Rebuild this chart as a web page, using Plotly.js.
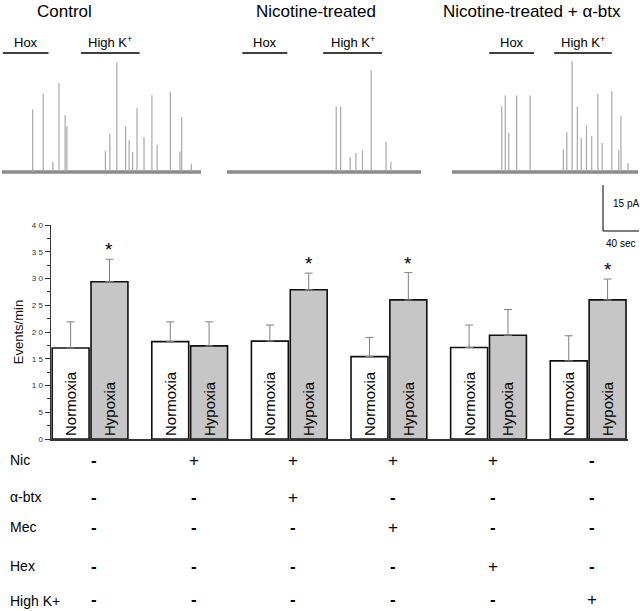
<!DOCTYPE html>
<html>
<head>
<meta charset="utf-8">
<script src="https://cdn.plot.ly/plotly-3.0.1.min.js"></script>
<style>html,body{margin:0;padding:0;background:#fff}#chart{width:640px;height:611px}</style>
</head>
<body>
<div id="chart"></div>
<script>
// ---------- bar chart data ----------
var groups = ['Control', 'Nicotine', 'Nic + α-btx', 'Nic + Mec', 'Nic + Hex', 'High K+'];
var normoxia = [17.0, 18.2, 18.3, 15.4, 17.1, 14.6];
var normoxiaErr = [4.9, 3.7, 3.0, 3.6, 4.2, 4.7];
var hypoxia = [29.4, 17.4, 27.9, 26.0, 19.4, 26.0];
var hypoxiaErr = [4.2, 4.5, 3.1, 5.1, 4.8, 3.9];
var significant = [true, false, true, true, false, true];
var yTickVals = [0, 5, 10, 15, 20, 25, 30, 35, 40];
var yTickText = ['0', '5', '1 0', '1 5', '2 0', '2 5', '3 0', '3 5', '4 0'];

// ---------- treatment table ----------
var rowLabels = ['Nic', 'α-btx', 'Mec', 'Hex', 'High K+'];
var nicRow   = ['-', '+', '+', '+', '+', '-'];
var abtxRow  = ['-', '-', '+', '-', '-', '-'];
var mecRow   = ['-', '-', '-', '+', '-', '-'];
var hexRow   = ['-', '-', '-', '-', '+', '-'];
var highKRow = ['-', '-', '-', '-', '-', '+'];

// ---------- recording traces (time s, amplitude pA) ----------
var panelTitles = ['Control', 'Nicotine-treated', 'Nicotine-treated + α-btx'];
var panelDuration = [227, 222, 213];
var controlSpikeT = [35, 47, 58, 65, 72, 74, 118, 123, 131, 141, 145, 149, 154, 162, 171, 177, 192, 203, 205, 216];
var controlSpikeA = [20.3, 25.5, 3.3, 29.0, 18.5, 14.9, 6.8, 12.5, 35.6, 14.9, 10.3, 6.5, 20.8, 11.4, 25.0, 8.9, 26.1, 6.7, 17.9, 2.7];
var nicSpikeT = [125, 130, 141, 147.5, 155, 165, 182, 187.5];
var nicSpikeA = [21.2, 21.4, 4.9, 6.2, 7.1, 33.1, 9.8, 3.3];
var btxSpikeT = [57, 61, 65, 74, 89.5, 127.5, 131.5, 137.5, 143.5, 148, 154, 160, 167, 172, 183, 191, 193.5, 201.5];
var btxSpikeA = [21.4, 24.9, 12.7, 24.9, 24.9, 7.3, 12.9, 36.1, 21.2, 11.1, 15.1, 11.8, 25.5, 9.4, 26.3, 7.1, 18.1, 2.9];
var hoxPeriod = [[1, 53], [17.5, 69], [42.6, 94]];
var highKPeriod = [[90, 157], [110, 177.5], [117, 183]];

var FONT = 'Arial, "Liberation Sans", sans-serif';
var W = 640, H = 611;
function px(x) { return x / W; }
function py(y) { return (H - y) / H; }

var data = [];
var zeros = normoxia.map(function () { return 0; });
data.push({
  type: 'bar', name: 'Normoxia', x: groups, y: normoxia,
  marker: { color: '#ffffff', line: { color: '#111', width: 1.6 } },
  error_y: { type: 'data', symmetric: false, array: normoxiaErr, arrayminus: zeros, color: '#808080', thickness: 1, width: 4 },
  text: normoxia.map(function () { return 'Normoxia'; }),
  textposition: 'inside', insidetextanchor: 'start', textangle: -90,
  textfont: { family: FONT, size: 15, color: '#000' },
  hoverinfo: 'x+y', showlegend: false, xaxis: 'x', yaxis: 'y'
});
data.push({
  type: 'bar', name: 'Hypoxia', x: groups, y: hypoxia,
  marker: { color: '#c6c6c6', line: { color: '#111', width: 1.6 } },
  error_y: { type: 'data', symmetric: false, array: hypoxiaErr, arrayminus: zeros, color: '#808080', thickness: 1, width: 4 },
  text: hypoxia.map(function () { return 'Hypoxia'; }),
  textposition: 'inside', insidetextanchor: 'start', textangle: -90,
  textfont: { family: FONT, size: 15, color: '#000' },
  hoverinfo: 'x+y', showlegend: false, xaxis: 'x', yaxis: 'y'
});

// recording panels
var spikeSets = [[controlSpikeT, controlSpikeA], [nicSpikeT, nicSpikeA], [btxSpikeT, btxSpikeA]];
var panelXDomains = [[px(2), px(201)], [px(227), px(421)], [px(452), px(638)]];
var traceYDomain = [py(182), py(58)];
for (var p = 0; p < 3; p++) {
  var ax = 'x' + (p + 2), ay = 'y' + (p + 2);
  data.push({
    type: 'scatter', mode: 'lines', x: [0, panelDuration[p]], y: [0, 0],
    line: { color: '#8a8a8a', width: 3.5 }, hoverinfo: 'skip', showlegend: false, xaxis: ax, yaxis: ay
  });
  var sx = [], sy = [];
  for (var i = 0; i < spikeSets[p][0].length; i++) {
    sx.push(spikeSets[p][0][i], spikeSets[p][0][i], null);
    sy.push(0, spikeSets[p][1][i], null);
  }
  data.push({
    type: 'scatter', mode: 'lines', x: sx, y: sy,
    line: { color: '#a8a8a8', width: 1.2 }, hoverinfo: 'skip', showlegend: false, xaxis: ax, yaxis: ay
  });
}

var layout = {
  width: W, height: H,
  margin: { l: 0, r: 0, t: 0, b: 0 },
  paper_bgcolor: '#fff', plot_bgcolor: 'rgba(0,0,0,0)',
  barmode: 'group', bargap: 0.22, bargroupgap: 0.05,
  font: { family: FONT, color: '#000' },
  xaxis: {
    domain: [px(51), px(628)], range: [-0.392, 5.40], type: 'category',
    showticklabels: false, ticks: '', showgrid: false, zeroline: false,
    showline: true, linecolor: '#333', linewidth: 2, anchor: 'y', fixedrange: true
  },
  yaxis: {
    domain: [py(439), py(225)], range: [0, 40], anchor: 'x',
    tickvals: yTickVals, ticktext: yTickText, ticks: 'outside', ticklen: 5, tickwidth: 1, tickcolor: '#333',
    minor: { dtick: 2.5, ticks: 'outside', ticklen: 3, tickcolor: '#333', tickwidth: 1 },
    tickfont: { family: FONT, size: 8, color: '#333' },
    showline: true, linecolor: '#333', linewidth: 1.5, showgrid: false, zeroline: false,
    title: { text: 'Events/min', font: { family: FONT, size: 13, color: '#111' }, standoff: 5 },
    fixedrange: true
  },
  annotations: [],
  shapes: []
};

for (var p = 0; p < 3; p++) {
  var n = p + 2;
  layout['xaxis' + n] = { domain: panelXDomains[p], range: [0, panelDuration[p]], anchor: 'y' + n, visible: false, fixedrange: true };
  layout['yaxis' + n] = { domain: traceYDomain, range: [-3.26, 37.1], anchor: 'x' + n, visible: false, fixedrange: true };
  // stimulus bars and labels
  var periods = [hoxPeriod[p], highKPeriod[p]];
  var labels = ['Hox', 'High K<sup>+</sup>'];
  for (var k = 0; k < 2; k++) {
    layout.shapes.push({ type: 'line', xref: 'x' + n, yref: 'paper', x0: periods[k][0], x1: periods[k][1], y0: py(53), y1: py(53), line: { color: '#000', width: 1.3 } });
    layout.annotations.push({ xref: 'x' + n, yref: 'paper', x: (periods[k][0] + periods[k][1]) / 2, xanchor: 'center', y: py(53), yanchor: 'bottom', yshift: 1, text: labels[k], showarrow: false, font: { family: FONT, size: 13, color: '#000' } });
  }
}
// panel titles
var titleX = [64, 316, 532];
for (var p = 0; p < 3; p++) {
  layout.annotations.push({ xref: 'paper', yref: 'paper', x: px(titleX[p]), xanchor: 'center', y: py(12), yanchor: 'middle', text: panelTitles[p], showarrow: false, font: { family: FONT, size: 17, color: '#000' } });
}

// scale bar
layout.shapes.push({ type: 'line', xref: 'paper', yref: 'paper', x0: px(603), x1: px(603), y0: py(185), y1: py(231), line: { color: '#000', width: 1 } });
layout.shapes.push({ type: 'line', xref: 'paper', yref: 'paper', x0: px(603), x1: px(639), y0: py(231), y1: py(231), line: { color: '#000', width: 1 } });
layout.annotations.push({ xref: 'paper', yref: 'paper', x: px(626), xanchor: 'center', y: py(204), yanchor: 'middle', text: '15 pA', showarrow: false, font: { family: FONT, size: 10, color: '#000' } });
layout.annotations.push({ xref: 'paper', yref: 'paper', x: px(620), xanchor: 'center', y: py(243), yanchor: 'middle', text: '40 sec', showarrow: false, font: { family: FONT, size: 10, color: '#000' } });

// significance stars
for (var i = 0; i < groups.length; i++) {
  if (significant[i]) {
    layout.annotations.push({ xref: 'x', yref: 'y', x: i + 0.195, xanchor: 'center', y: hypoxia[i] + hypoxiaErr[i], yanchor: 'bottom', yshift: -3, text: '*', showarrow: false, font: { family: FONT, size: 19, color: '#000' } });
  }
}

// treatment table
var rows = [nicRow, abtxRow, mecRow, hexRow, highKRow];
var rowY = [460, 497, 527, 566, 603];
for (var r = 0; r < rows.length; r++) {
  var last = (r === rows.length - 1);
  // last row: anchor to the bottom edge so the text box stays inside the figure
  var yPos = last ? 0 : py(rowY[r]);
  var yAnc = last ? 'bottom' : 'middle';
  layout.annotations.push({ xref: 'paper', yref: 'paper', x: px(8), xanchor: 'left', y: yPos, yanchor: yAnc, text: rowLabels[r], showarrow: false, font: { family: FONT, size: 14, color: '#000' } });
  for (var c = 0; c < rows[r].length; c++) {
    var sym = rows[r][c];
    layout.annotations.push({ xref: 'x', yref: 'paper', x: c, xanchor: 'center', xshift: 4, y: yPos, yanchor: yAnc, text: sym === '-' ? '<b>-</b>' : sym, showarrow: false, font: { family: FONT, size: 17, color: '#000' } });
  }
}

Plotly.newPlot('chart', data, layout, { displayModeBar: false, staticPlot: true });
</script>
</body>
</html>
